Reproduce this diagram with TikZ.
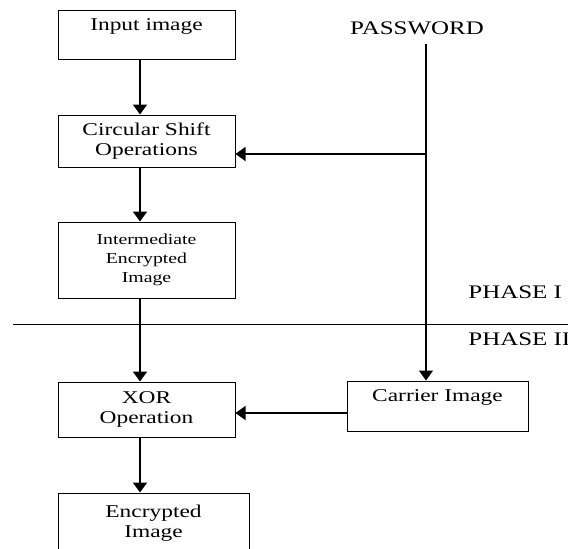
\documentclass[tikz,border=0pt]{standalone}
\usepackage{fontspec}
\setmainfont[FakeStretch=1.3]{Liberation Serif}
\usetikzlibrary{arrows.meta}
\begin{document}
\begin{tikzpicture}[x=0.5pt,y=-0.5pt,
    blk/.style={draw,line width=0.5pt,align=center,inner sep=0pt,font=\fontsize{9}{10}\selectfont},
    lbl/.style={inner sep=0pt,font=\fontsize{9.6}{11}\selectfont},
    flow/.style={line width=0.9pt,-{Triangle[width=7pt,length=5pt]}}]
  \clip (0,0) rectangle (568,548);
  \node[blk,minimum width=88.5pt,minimum height=24.5pt,text depth=9.5pt] (inp) at (146.5,34.5) {Input image};
  \node[blk,minimum width=88.5pt,minimum height=26pt] (shift) at (146.5,141) {Circular Shift\\Operations};
  \node[blk,minimum width=88.5pt,minimum height=38pt,font=\fontsize{7.6}{9.5}\selectfont] (inter) at (146.5,260) {Intermediate\\Encrypted\\Image};
  \node[blk,minimum width=88.5pt,minimum height=27.5pt] (xor) at (146.5,409.5) {XOR\\Operation};
  \node[blk,minimum width=95.5pt,minimum height=30pt] (enc) at (153.5,523) {Encrypted\\Image};
  \node[blk,minimum width=90.5pt,minimum height=25pt,text depth=10pt] (carrier) at (437.5,406) {Carrier Image};
  \node[lbl] (pw) at (417,28) {PASSWORD};
  \node[lbl,anchor=west] (ph1) at (468,292) {PHASE I};
  \node[lbl,anchor=west] (ph2) at (468,339) {PHASE II};
  \coordinate (jn) at (426,154);
  % phase separator
  \draw[line width=0.5pt] (13,324) -- (568,324);
  % left column
  \draw[flow] ([xshift=-3.25pt]inp.south) -- ([xshift=-3.25pt]shift.north);
  \draw[flow] ([xshift=-3.25pt]shift.south) -- ([xshift=-3.25pt]inter.north);
  \draw[flow] ([xshift=-3.25pt]inter.south) -- ([xshift=-3.25pt]xor.north);
  \draw[flow] ([xshift=-3.25pt]xor.south) -- ([xshift=-3.25pt]xor.south |- enc.north);
  % password branch
  \draw[line width=0.7pt] ([yshift=-4.5pt]pw.south -| jn) -- (jn);
  \draw[flow,line width=0.7pt] (jn) -- (jn -| shift.east);
  \draw[flow,line width=0.7pt] (jn) -- (carrier.north -| jn);
  \draw[flow,line width=0.7pt] ([yshift=-3.5pt]carrier.west) -- ([yshift=-3.5pt]carrier.west -| xor.east);
\end{tikzpicture}
\end{document}
